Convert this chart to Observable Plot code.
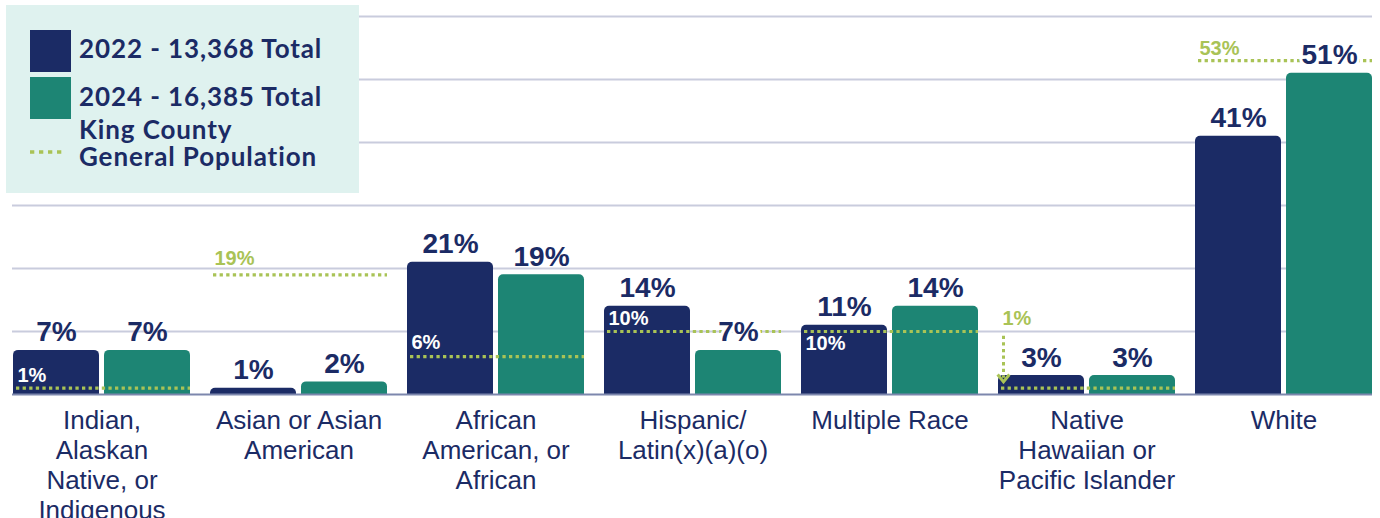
<!DOCTYPE html>
<html>
<head>
<meta charset="utf-8">
<script src="https://cdn.jsdelivr.net/npm/d3@7"></script>
<script src="https://cdn.jsdelivr.net/npm/@observablehq/plot@0.6"></script>
<style>
  body { margin: 0; background: #fff; }
  #wrap { position: relative; width: 1380px; height: 518px; overflow: hidden; }
  #chart svg { display: block; }
  #legend { position: absolute; left: 6px; top: 5px; width: 353px; height: 188px; background: #dff2ef;
            font-family: Lato, "Open Sans", sans-serif; font-weight: 700; color: #1b2b65; font-size: 26px;
            letter-spacing: 0.9px; }
  .sw { position: absolute; left: 24px; width: 41px; height: 42px; }
  .lt { position: absolute; left: 73px; white-space: nowrap; line-height: 1; }
</style>
</head>
<body>
<div id="wrap">
  <div id="chart"></div>
  <div id="legend"></div>
</div>
<script>
// ---- data ----
const categories = [
  "Indian, Alaskan Native, or Indigenous",
  "Asian or Asian American",
  "African American, or African",
  "Hispanic/ Latin(x)(a)(o)",
  "Multiple Race",
  "Native Hawaiian or Pacific Islander",
  "White"
];
const categoryLabels = [
  "Indian,\nAlaskan\nNative, or\nIndigenous",
  "Asian or Asian\nAmerican",
  "African\nAmerican, or\nAfrican",
  "Hispanic/\nLatin(x)(a)(o)",
  "Multiple Race",
  "Native\nHawaiian or\nPacific Islander",
  "White"
];
const years = ["2022", "2024"];
const share2022 = [7, 1, 21, 14, 11, 3, 41];
const share2024 = [7, 2, 19, 7, 14, 3, 51];
const kingCounty = [1, 19, 6, 10, 10, 1, 53];
const gridTicks = [10, 20, 30, 40, 50, 60];
const legendLabels = ["2022 - 13,368 Total", "2024 - 16,385 Total", "King County", "General Population"];

// ---- styles ----
const NAVY = "#1b2b65", TEAL = "#1d8574", GREEN = "#a9c356", GRID = "#c9ccdd", BASE = "#7d87ad";
const textFont = "Liberation Sans, Arial, sans-serif";
const BAND = 177, BAR = 86;              // pixel widths of a category group and of one bar
const half = (BAND - BAR) / 2;           // offset of each bar centre from the group centre
const yearStyle = {
  "2022": {fill: NAVY, insetLeft: 0, insetRight: BAND - BAR, dx: -half},
  "2024": {fill: TEAL, insetLeft: BAND - BAR, insetRight: 0, dx: half}
};
// label placement for King County values (pixel offsets / colours), by category index
const kcLabelStyle = [
  {dy: -6, fill: "white"},
  {dy: -10, fill: GREEN},
  {dy: -8, fill: "white"},
  {dy: -7, fill: "white"},
  {dy: 18, fill: "white"},
  {dy: -63, fill: GREEN, arrow: true},
  {dy: -6, fill: GREEN}
];

// ---- tables ----
const bars = categories.flatMap((c, i) => [
  {cat: c, year: "2022", v: share2022[i], kc: kingCounty[i]},
  {cat: c, year: "2024", v: share2024[i], kc: kingCounty[i]}
]);
const kc = categories.map((c, i) => ({cat: c, kc: kingCounty[i], label: categoryLabels[i], i}));
const needsHalo = d => d.year === "2024" && d.kc > d.v && d.kc < d.v + 5;

const barMarks = years.map(y => Plot.barY(bars.filter(d => d.year === y), {
  x: "cat", y: "v", fill: yearStyle[y].fill, insetLeft: yearStyle[y].insetLeft, insetRight: yearStyle[y].insetRight,
  insetBottom: -8, rx: 5, clip: true
}));

const valueMarks = years.flatMap(y => [
  Plot.text(bars.filter(d => d.year === y && !needsHalo(d)), {x: "cat", y: "v", text: d => d.v + "%",
    dx: yearStyle[y].dx, lineAnchor: "bottom", dy: -9, fill: NAVY, fontSize: 28, fontWeight: 700, fontFamily: textFont}),
  Plot.text(bars.filter(d => d.year === y && needsHalo(d)), {x: "cat", y: "v", text: d => d.v + "%",
    dx: yearStyle[y].dx, lineAnchor: "bottom", dy: -9, fill: NAVY, stroke: "white", strokeWidth: 6,
    paintOrder: "stroke", fontSize: 28, fontWeight: 700, fontFamily: textFont})
]);

const kcLabelMarks = kcLabelStyle.map((s, i) =>
  Plot.text(kc.filter(d => d.i === i), {
    x: "cat", y: "kc", text: d => d.kc + "%", textAnchor: "start",
    lineAnchor: "bottom", dx: -BAND / 2 + 4, dy: s.dy, fill: s.fill, fontSize: 20, fontWeight: 700, fontFamily: textFont
  })
);

const chevron = {
  draw(context, size) {
    const r = Math.sqrt(size);
    context.moveTo(-r * 0.55, -r * 0.35);
    context.lineTo(0, r * 0.35);
    context.lineTo(r * 0.55, -r * 0.35);
  }
};
const arrowData = kc.filter(d => kcLabelStyle[d.i].arrow);
const arrowDx = -BAND / 2 + 5;

const chart = Plot.plot({
  width: 1380,
  height: 518,
  marginTop: 16,
  marginBottom: 124,
  marginLeft: 12,
  marginRight: 8,
  style: {background: "transparent", overflow: "visible"},
  x: {domain: categories, paddingInner: 20 / 197, paddingOuter: 0, axis: null},
  y: {domain: [0, 60], axis: null},
  marks: [
    Plot.ruleY(gridTicks, {stroke: GRID, strokeWidth: 2}),
    ...barMarks,
    Plot.ruleY([0], {stroke: BASE, strokeWidth: 2}),
    Plot.tickY(kc, {x: "cat", y: "kc", stroke: GREEN, strokeWidth: 3.2, strokeDasharray: "3.3,3.3", insetLeft: 3}),
    // NHPI arrow from its label down towards the line
    Plot.ruleX(arrowData, {x: "cat", y1: "kc", y2: "kc", insetTop: -52, insetBottom: 10,
      dx: arrowDx, stroke: GREEN, strokeWidth: 3, strokeDasharray: "3.3,3.3"}),
    Plot.dot(arrowData, {x: "cat", y: "kc", dx: arrowDx, dy: -10, symbol: chevron, r: 6,
      stroke: GREEN, strokeWidth: 3, fill: "none"}),
    ...kcLabelMarks,
    ...valueMarks,
    Plot.text(kc, {x: "cat", text: "label", frameAnchor: "bottom", lineAnchor: "top", dy: 13,
      lineHeight: 30 / 26, fill: NAVY, fontSize: 26, fontFamily: textFont})
  ]
});
document.getElementById("chart").appendChild(chart);

// ---- legend ----
const legend = document.getElementById("legend");
legend.innerHTML = `
  <div class="sw" style="top:25px;background:${NAVY}"></div>
  <div class="sw" style="top:72px;background:${TEAL}"></div>
  <svg style="position:absolute;left:24px;top:144px" width="36" height="6">
    <line x1="0" x2="36" y1="3" y2="3" stroke="${GREEN}" stroke-width="3.5" stroke-dasharray="4.3,4.7"/>
  </svg>
  <div class="lt" style="top:30px">${legendLabels[0]}</div>
  <div class="lt" style="top:78px">${legendLabels[1]}</div>
  <div class="lt" style="top:111px">${legendLabels[2]}</div>
  <div class="lt" style="top:138px">${legendLabels[3]}</div>
`;
</script>
</body>
</html>
